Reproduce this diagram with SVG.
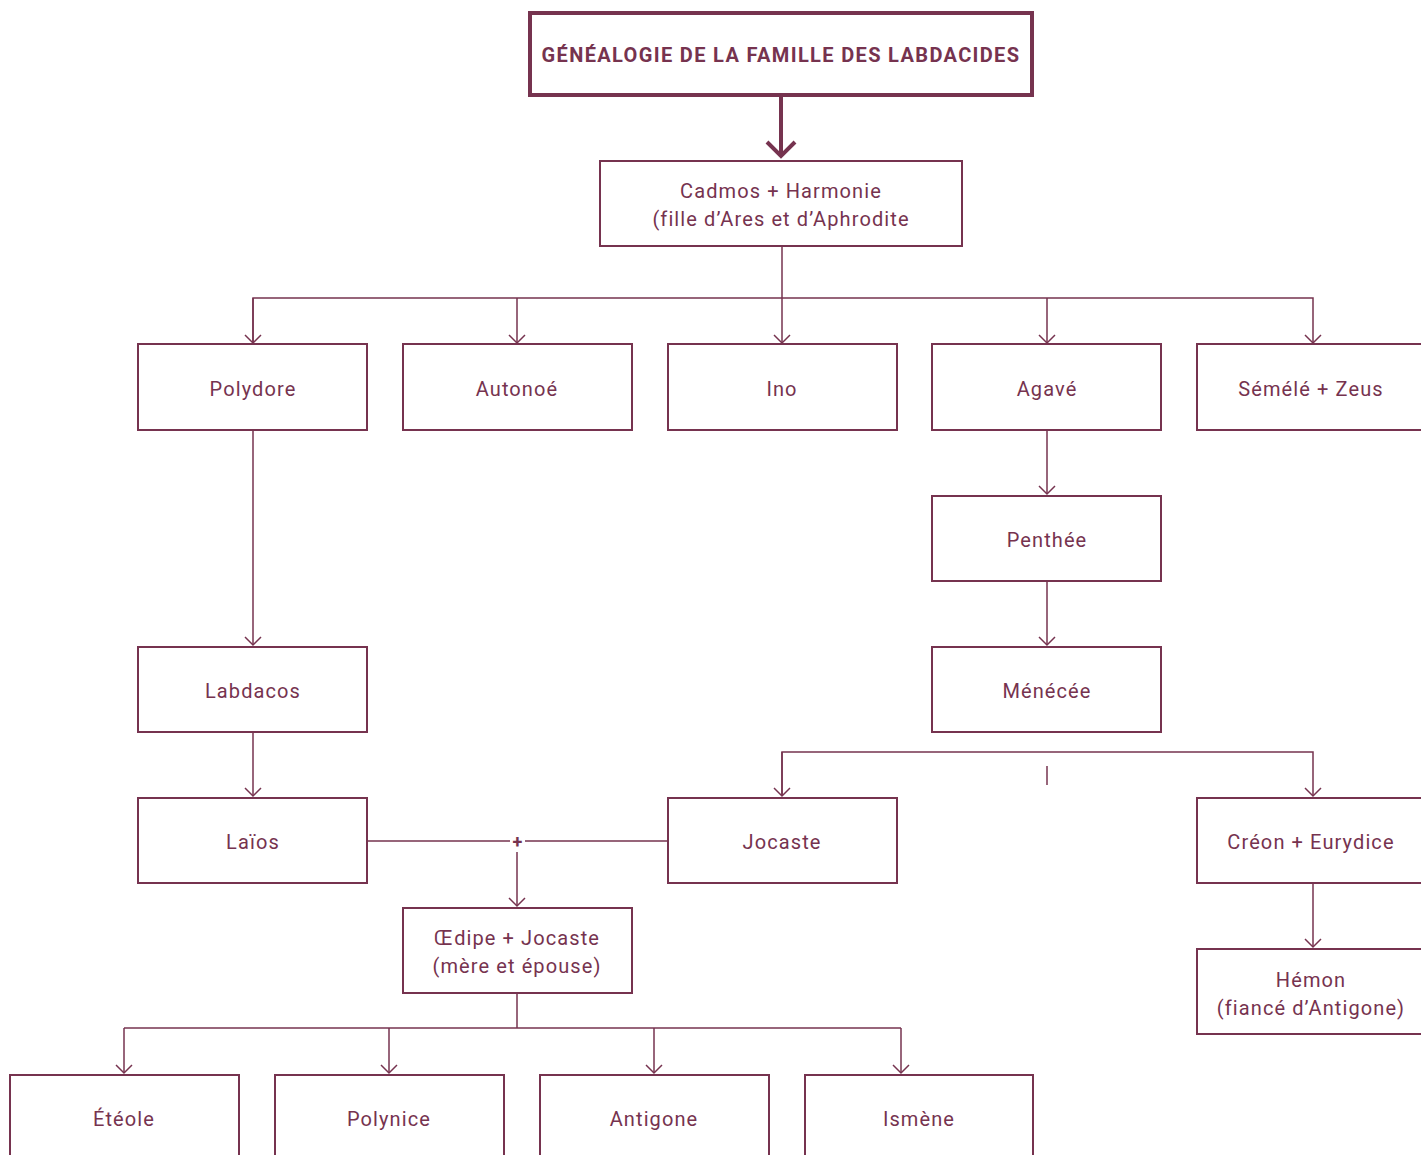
<svg xmlns="http://www.w3.org/2000/svg" width="1421" height="1155" viewBox="0 0 1421 1155">
<style>
.box{fill:#fff;stroke:#76334f;stroke-width:2}
.title{fill:#fff;stroke:#76334f;stroke-width:4}
.t{font-family:Roboto,"Liberation Sans",sans-serif;font-size:20px;fill:#76334f;text-anchor:middle;letter-spacing:1.1px}
.tb{font-family:Roboto,"Liberation Sans",sans-serif;font-size:20px;font-weight:bold;fill:#76334f;text-anchor:middle;letter-spacing:1.35px}
.c{fill:none;stroke:#76334f;stroke-width:1.5}
</style>
<defs>
<marker id="a" markerUnits="userSpaceOnUse" markerWidth="20" markerHeight="20" viewBox="0 0 20 20" refX="10" refY="10" orient="auto">
<path d="M2,2 L10,10 L2,18" fill="none" stroke="#76334f" stroke-width="1.5"/>
</marker>
</defs>
<rect width="1421" height="1155" fill="#fff"/>
<g id="connectors">
<line x1="781" y1="97" x2="781" y2="156" stroke="#76334f" stroke-width="4"/>
<path d="M767,142 L781,156 L795,142" fill="none" stroke="#76334f" stroke-width="4"/>
<path class="c" d="M782,246 V298"/>
<path class="c" d="M253,343 V298 H1313 V343" marker-end="url(#a)"/>
<path class="c" d="M253,298 V343" marker-end="url(#a)"/>
<path class="c" d="M517,298 V343" marker-end="url(#a)"/>
<path class="c" d="M782,298 V343" marker-end="url(#a)"/>
<path class="c" d="M1047,298 V343" marker-end="url(#a)"/>
<path class="c" d="M253,430 V645" marker-end="url(#a)"/>
<path class="c" d="M253,732 V796" marker-end="url(#a)"/>
<path class="c" d="M1047,430 V494" marker-end="url(#a)"/>
<path class="c" d="M1047,581 V645" marker-end="url(#a)"/>
<path class="c" d="M782,796 V752 H1313 V796" marker-end="url(#a)"/>
<path class="c" d="M782,752 V796" marker-end="url(#a)"/>
<path class="c" d="M1047,766 V785"/>
<path class="c" d="M367,841 H510 M525,841 H668"/>
<text x="517.5" y="848" style="font-family:Roboto,'Liberation Sans',sans-serif;font-size:18px;font-weight:bold;fill:#76334f;text-anchor:middle">+</text>
<path class="c" d="M517,852 V906" marker-end="url(#a)"/>
<path class="c" d="M1313,883 V947" marker-end="url(#a)"/>
<path class="c" d="M517,993 V1028"/>
<path class="c" d="M124,1028 H901"/>
<path class="c" d="M124,1028 V1073" marker-end="url(#a)"/>
<path class="c" d="M389,1028 V1073" marker-end="url(#a)"/>
<path class="c" d="M654,1028 V1073" marker-end="url(#a)"/>
<path class="c" d="M901,1028 V1073" marker-end="url(#a)"/>
</g>
<g id="title"><rect class="title" x="530" y="13" width="502" height="82"/><text class="tb" x="781" y="62">GÉNÉALOGIE DE LA FAMILLE DES LABDACIDES</text></g>
<g id="cadmos"><rect class="box" x="600" y="161" width="362" height="85"/><text class="t" x="781" y="198">Cadmos + Harmonie</text><text class="t" x="781" y="226">(fille d’Ares et d’Aphrodite</text></g>
<g id="polydore"><rect class="box" x="138" y="344" width="229" height="86"/><text class="t" x="253" y="396">Polydore</text></g>
<g id="autonoe"><rect class="box" x="403" y="344" width="229" height="86"/><text class="t" x="517" y="396">Autonoé</text></g>
<g id="ino"><rect class="box" x="668" y="344" width="229" height="86"/><text class="t" x="782" y="396">Ino</text></g>
<g id="agave"><rect class="box" x="932" y="344" width="229" height="86"/><text class="t" x="1047" y="396">Agavé</text></g>
<g id="semele"><rect class="box" x="1197" y="344" width="232" height="86"/><text class="t" x="1311" y="396">Sémélé + Zeus</text></g>
<g id="penthee"><rect class="box" x="932" y="496" width="229" height="85"/><text class="t" x="1047" y="547">Penthée</text></g>
<g id="labdacos"><rect class="box" x="138" y="647" width="229" height="85"/><text class="t" x="253" y="698">Labdacos</text></g>
<g id="menecee"><rect class="box" x="932" y="647" width="229" height="85"/><text class="t" x="1047" y="698">Ménécée</text></g>
<g id="laios"><rect class="box" x="138" y="798" width="229" height="85"/><text class="t" x="253" y="849">Laïos</text></g>
<g id="jocaste"><rect class="box" x="668" y="798" width="229" height="85"/><text class="t" x="782" y="849">Jocaste</text></g>
<g id="creon"><rect class="box" x="1197" y="798" width="232" height="85"/><text class="t" x="1311" y="849">Créon + Eurydice</text></g>
<g id="oedipe"><rect class="box" x="403" y="908" width="229" height="85"/><text class="t" x="517" y="945">Œdipe + Jocaste</text><text class="t" x="517" y="973">(mère et épouse)</text></g>
<g id="hemon"><rect class="box" x="1197" y="949" width="232" height="85"/><text class="t" x="1311" y="987">Hémon</text><text class="t" x="1311" y="1015">(fiancé d’Antigone)</text></g>
<g id="eteole"><rect class="box" x="10" y="1075" width="229" height="90"/><text class="t" x="124" y="1126">Étéole</text></g>
<g id="polynice"><rect class="box" x="275" y="1075" width="229" height="90"/><text class="t" x="389" y="1126">Polynice</text></g>
<g id="antigone"><rect class="box" x="540" y="1075" width="229" height="90"/><text class="t" x="654" y="1126">Antigone</text></g>
<g id="ismene"><rect class="box" x="805" y="1075" width="228" height="90"/><text class="t" x="919" y="1126">Ismène</text></g>
</svg>
